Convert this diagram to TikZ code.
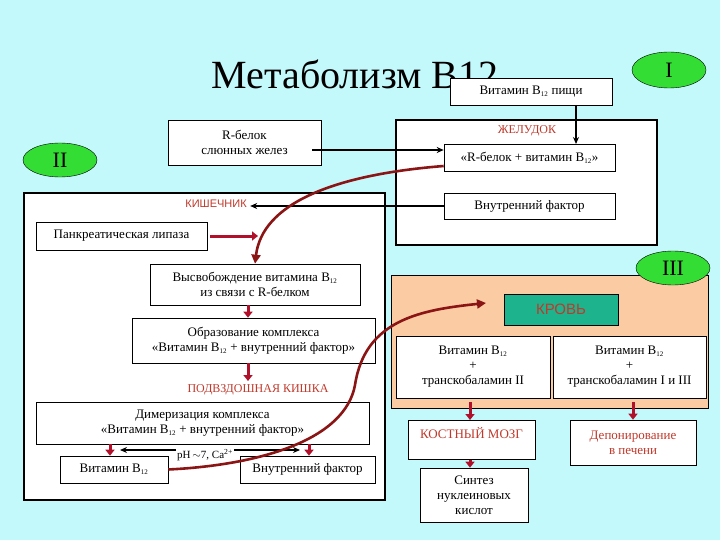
\documentclass[tikz,border=0pt]{standalone}
\usepackage{fontspec}
\setmainfont{Liberation Serif}
\setsansfont{Liberation Sans}
\usetikzlibrary{arrows.meta,shapes.geometric}
\definecolor{bg}{HTML}{C4F9FC}
\definecolor{grn}{HTML}{33DD33}
\definecolor{orng}{HTML}{FBCBA3}
\definecolor{teal2}{HTML}{1DB38C}
\definecolor{rdk}{HTML}{C0392B}
\definecolor{darr}{HTML}{B0102A}
\definecolor{curve}{HTML}{8B1515}
\newcommand{\Bt}{B\textsubscript{\scriptsize 12}}
\begin{document}
\begin{tikzpicture}[x=1pt,y=-1pt,
  bx/.style={draw,fill=white,line width=0.6pt,inner sep=2pt,align=center,font=\fontsize{13}{15}\selectfont},
  oval/.style={ellipse,draw,fill=grn,minimum width=74pt,minimum height=36pt,inner sep=0pt,font=\fontsize{22}{24}\selectfont},
  thk/.style={draw,line width=2.4pt},
  rarr/.style={draw=darr,line width=3pt,-{Triangle[length=6pt,width=9pt]}},
  barr/.style={draw,line width=1.2pt,-{Stealth[length=7pt,width=6pt]}},
  crv/.style={draw=curve,line width=2.6pt},
  lbl/.style={font=\fontsize{12}{14}\selectfont,text=rdk}]
\fill[bg] (0,0) rectangle (720,540);
\useasboundingbox (0,0) rectangle (720,540);
% title
\node (title) at (355,74) {\fontsize{40}{44}\selectfont Метаболизм В12};
% stomach
\draw[thk,fill=white] (396,120) rectangle (657,245);
\node[lbl] (zhel) at (527,131) {ЖЕЛУДОК};
\node[bx,minimum width=171pt,minimum height=27pt] (rb12) at (529.5,157.5) {«R-белок + витамин \Bt»};
\node[bx,minimum width=171pt,minimum height=26pt] (vf1) at (529.5,206) {Внутренний фактор};
\node[bx,minimum width=162pt,minimum height=27pt] (food) at (531,91.5) {Витамин \Bt\ пищи};
\node[oval] (I) at (669,70) {I};
\draw[barr] (576,105) -- (576,144);
% R-belok
\node[bx,minimum width=153pt,minimum height=45pt] (rsal) at (244.5,142.5) {R-белок\\слюнных желез};
\draw[barr] (312,150) -- (rb12.west|-0,150);
\node[oval,minimum height=34pt] (II) at (60,160) {II};
% intestine
\draw[thk,fill=white] (24,193) rectangle (385,500);
\node[lbl,font=\sffamily\fontsize{11}{13}\selectfont] (kish) at (216,204) {КИШЕЧНИК};
\draw[barr] (vf1.west) -- (kish.east|-vf1.west);
\node[bx,minimum width=171pt,minimum height=28pt] (lip) at (121.5,236) {Панкреатическая липаза};
\draw[rarr] (210,236) -- (258,236);
\node[bx,minimum width=210pt,minimum height=41pt] (vysv) at (255,284.5) {Высвобождение витамина \Bt\\из связи с R-белком};
\draw[crv,-{Triangle[length=9pt,width=9pt]}] (rb12.west|-0,166) .. controls (330,175) and (262,205) .. (255,0|-vysv.north);
\node[bx,minimum width=243pt,minimum height=45pt] (obr) at (253.5,340.5) {Образование комплекса\\«Витамин \Bt\ + внутренний фактор»};
\draw[rarr] (248,0|-vysv.south) -- (248,0|-obr.north);
\node[lbl] (podv) at (258,390) {ПОДВЗДОШНАЯ КИШКА};
\draw[rarr] (248,0|-obr.south) -- (248,381);
\node[bx,minimum width=333pt,minimum height=42pt] (dim) at (202.5,423) {Димеризация комплекса\\«Витамин \Bt\ + внутренний фактор»};
\node[bx,minimum width=108pt,minimum height=27pt] (vb) at (114,469.5) {Витамин \Bt};
\node[bx,minimum width=135pt,minimum height=27pt] (vf2) at (307.5,469.5) {Внутренний фактор};
\draw[rarr] (110,0|-dim.south) -- (110,0|-vb.north);
\draw[rarr] (309,0|-dim.south) -- (309,0|-vf2.north);
\node[font=\fontsize{11}{13}\selectfont,inner sep=1pt] (ph) at (205,455) {pH\,$\sim$7, Ca\textsuperscript{2+}};
\draw[barr] (ph.west|-0,450) -- (120,450);
\draw[barr] (ph.east|-0,450) -- (300,450);
% blood
\draw[fill=orng,line width=0.6pt] (391,275) rectangle (708,408);
\node[oval,minimum height=34pt] (III) at (673,268) {III};
\node[draw,fill=teal2,minimum width=114pt,minimum height=31pt,font=\sffamily\fontsize{15}{17}\selectfont,text=rdk] (krov) at (561,309.5) {КРОВЬ};
\node[bx,minimum width=154pt,minimum height=62pt] (tc2) at (473,367) {Витамин \Bt\\+\\транскобаламин II};
\node[bx,minimum width=153pt,minimum height=62pt] (tc13) at (629.5,367) {Витамин \Bt\\+\\транскобаламин I и III};
\draw[crv,-{Triangle[length=9pt,width=9pt]}] (vb.east) .. controls (260,465) and (345,440) .. (355,385) .. controls (365,320) and (420,310) .. (486,303);
\node[bx,minimum width=127pt,minimum height=39pt,text=rdk,anchor=north,text depth=14pt] (kost) at (471.5,420) {КОСТНЫЙ МОЗГ};
\node[bx,minimum width=126pt,minimum height=45pt,text=rdk] (dep) at (633,442.5) {Депонирование\\в печени};
\draw[rarr] (470,402) -- (470,0|-kost.north);
\draw[rarr] (633,402) -- (633,0|-dep.north);
\node[bx,minimum width=108pt,minimum height=54pt] (sint) at (474,495) {Синтез\\нуклеиновых\\кислот};
\draw[rarr] (470,0|-kost.south) -- (470,0|-sint.north);
\end{tikzpicture}
\end{document}
